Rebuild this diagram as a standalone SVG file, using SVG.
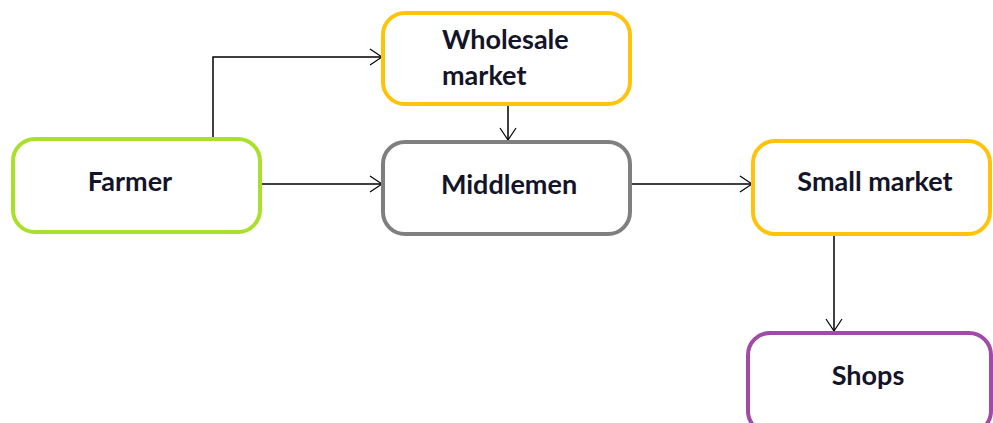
<svg xmlns="http://www.w3.org/2000/svg" width="993" height="423" viewBox="0 0 993 423">
<defs>
<marker id="arr" markerWidth="14" markerHeight="18" refX="13" refY="9" orient="auto" markerUnits="userSpaceOnUse">
<path d="M1,1 L13,9 L1,17" fill="none" stroke="#000" stroke-width="1.2"/>
</marker>
<style>
.box{stroke-width:4;fill:#fff}
.lbl{font-family:Lato,"Liberation Sans",sans-serif;font-weight:bold;font-size:27px;fill:#141428}
.c{text-anchor:middle}
.edge{fill:none;stroke:#000;stroke-width:1.5;marker-end:url(#arr)}
</style>
</defs>
<rect width="993" height="423" fill="#fff"/>
<g id="connectors">
<path class="edge" d="M213,137 V57 H382"/>
<path class="edge" d="M262,184 H382"/>
<path class="edge" d="M508,106 V140"/>
<path class="edge" d="M632,184 H752"/>
<path class="edge" d="M834,236 V331"/>
</g>
<g id="farmer">
<rect class="box" x="13" y="139" width="247" height="93" rx="22" stroke="#a8e02a" fill="#fdfcf9"/>
<text class="lbl c" x="130" y="191">Farmer</text>
</g>
<g id="wholesale">
<rect class="box" x="383" y="13" width="247" height="91" rx="22" stroke="#ffc30a"/>
<text class="lbl" x="442" y="49">Wholesale</text>
<text class="lbl" x="442" y="85">market</text>
</g>
<g id="middlemen">
<rect class="box" x="383" y="142" width="247" height="92" rx="22" stroke="#7f7f7f"/>
<text class="lbl c" x="509" y="194">Middlemen</text>
</g>
<g id="smallmarket">
<rect class="box" x="753" y="141" width="237" height="93" rx="22" stroke="#ffc30a"/>
<text class="lbl c" x="875" y="191">Small market</text>
</g>
<g id="shops">
<rect class="box" x="748" y="333" width="243" height="100" rx="22" stroke="#a04ca6"/>
<text class="lbl c" x="868" y="385">Shops</text>
</g>
</svg>
